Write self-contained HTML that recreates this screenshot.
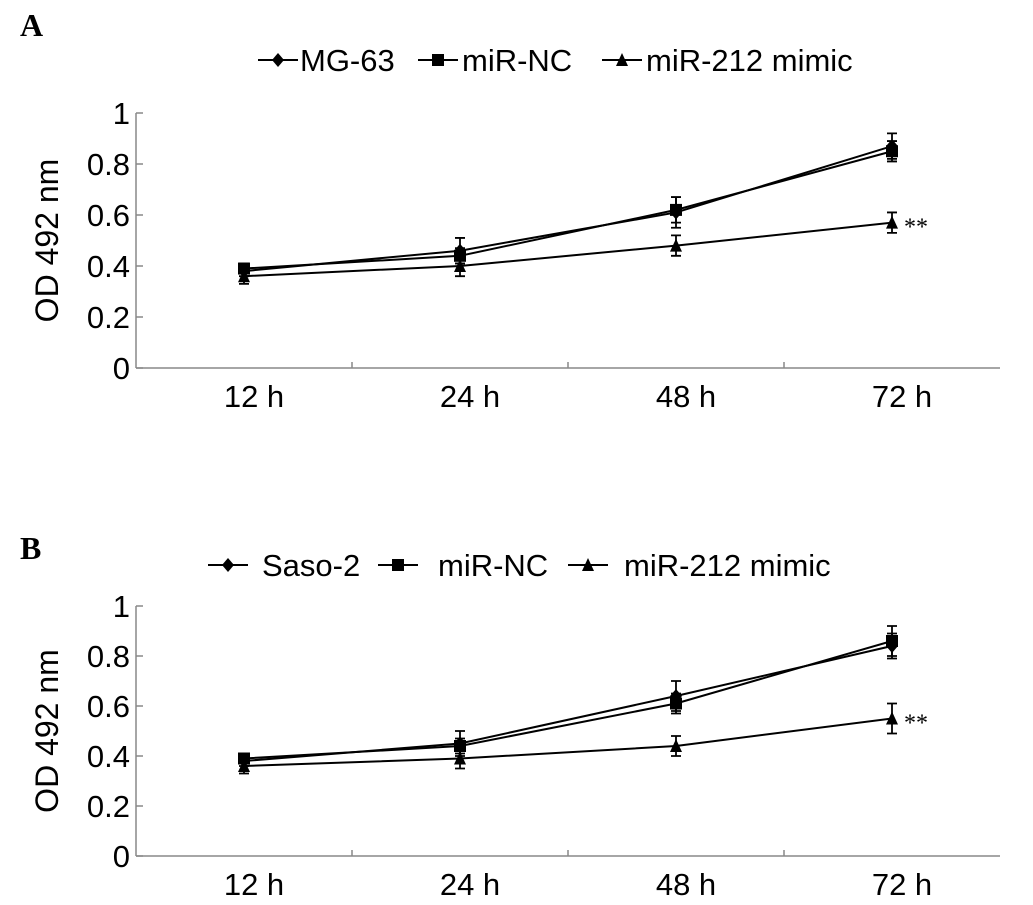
<!DOCTYPE html>
<html><head><meta charset="utf-8"><style>
html,body{margin:0;padding:0;background:#fff;}
svg{display:block;font-family:"Liberation Sans",Arial,sans-serif;}
</style></head><body>
<svg id="fig" width="1033" height="905" viewBox="0 0 1033 905"></svg>
<script>
const categories = ["12 h","24 h","48 h","72 h"];
const yTicks = [0,0.2,0.4,0.6,0.8,1];
const yTickLabels = ["0","0.2","0.4","0.6","0.8","1"];
const aCellLine = [0.38,0.46,0.61,0.87];
const aCellLineErr = [0.02,0.05,0.06,0.05];
const aNC = [0.39,0.44,0.62,0.85];
const aNCErr = [0.02,0.03,0.05,0.04];
const aMimic = [0.36,0.40,0.48,0.57];
const aMimicErr = [0.03,0.04,0.04,0.04];
const bCellLine = [0.38,0.45,0.64,0.84];
const bCellLineErr = [0.02,0.05,0.06,0.05];
const bNC = [0.39,0.44,0.61,0.86];
const bNCErr = [0.02,0.03,0.04,0.06];
const bMimic = [0.36,0.39,0.44,0.55];
const bMimicErr = [0.03,0.04,0.04,0.06];

const NS="http://www.w3.org/2000/svg";
const svg=document.getElementById('fig');
function mk(tag,attrs,parent){const e=document.createElementNS(NS,tag);for(const k in attrs)e.setAttribute(k,attrs[k]);(parent||svg).appendChild(e);return e;}

function marker(g,shape,x,y){
  if(shape==='diamond'){const m=mk('polygon',{points:`${x},${y-7} ${x+6},${y} ${x},${y+7} ${x-6},${y}`,fill:'#000'},g);
    }
  else if(shape==='square'){const m=mk('rect',{x:x-6,y:y-6,width:12,height:12,fill:'#000'},g);
    }
  else {const m=mk('polygon',{points:`${x},${y-7} ${x+6},${y+6} ${x-6},${y+6}`,fill:'#000'},g);
    }
}

function panel(opt){
  const x0=136,x1=1000,yBase=opt.y0,yTop=opt.y1;
  const sx=i=>x0+(x1-x0)/categories.length*(i+0.5);
  const sy=v=>yBase-(yBase-yTop)*v;
  const g=mk('g',{});
  
  
  const lab=mk('text',{x:20,y:opt.labelY,'font-family':'"Liberation Serif",serif','font-weight':'bold','font-size':32},g);
  lab.textContent=opt.letter;
  
  const ya=mk('line',{x1:x0,y1:yTop,x2:x0,y2:yBase,stroke:'#888','stroke-width':1.5},g);
  
  const xa=mk('line',{x1:x0,y1:yBase,x2:x1,y2:yBase,stroke:'#888','stroke-width':1.5},g);
  
  yTicks.forEach((v,i)=>{
    mk('line',{x1:x0,y1:sy(v),x2:x0+7,y2:sy(v),stroke:'#888','stroke-width':1.5},g);
    const t=mk('text',{x:x0-6,y:sy(v)+11,'text-anchor':'end','font-size':31},g);
    t.textContent=yTickLabels[i];
    
  });
  categories.forEach((c,i)=>{
    if(i>0){const bx=x0+(x1-x0)/categories.length*i;mk('line',{x1:bx,y1:yBase,x2:bx,y2:yBase-6,stroke:'#888','stroke-width':1.5},g);}
    const t=mk('text',{x:sx(i)+10,y:yBase+39,'text-anchor':'middle','font-size':31},g);
    t.textContent=c;
    
  });
  const yt=mk('text',{x:0,y:0,'text-anchor':'middle','font-size':32,transform:`translate(58,${(yBase+yTop)/2}) rotate(-90)`},g);
  yt.textContent='OD 492 nm';
  
  opt.series.forEach(s=>{
    const sg=mk('g',{},g);
    
    mk('polyline',{points:s.v.map((v,i)=>`${sx(i)},${sy(v)}`).join(' '),fill:'none',stroke:'#000','stroke-width':2},sg);
    s.v.forEach((v,i)=>{
      const x=sx(i);
      mk('path',{d:`M${x},${sy(v+s.e[i])}V${sy(v-s.e[i])}M${x-5},${sy(v+s.e[i])}H${x+5}M${x-5},${sy(v-s.e[i])}H${x+5}`,stroke:'#000','stroke-width':1.8,fill:'none'},sg);
      marker(sg,s.shape,x,sy(v));
    });
  });
  const last=opt.series[2];
  const st=mk('text',{x:sx(3)+12,y:sy(last.v[3])+12,'font-size':24,'font-family':'"Liberation Serif",serif'},g);
  st.textContent='**';
  
  const lg=mk('g',{},g);
  
  opt.legend.forEach(l=>{
    mk('line',{x1:l.x,y1:opt.legY,x2:l.x+40,y2:opt.legY,stroke:'#000','stroke-width':2},lg);
    marker(lg,l.shape,l.x+20,opt.legY);
    const t=mk('text',{x:l.tx,y:opt.legY+11,'font-size':31},lg);
    t.textContent=l.text;
    
  });
}

panel({name:'panel-a',letter:'A',labelY:36,y0:368,y1:113,legY:60,
  series:[{name:'series-mg63',shape:'diamond',v:aCellLine,e:aCellLineErr},
          {name:'series-mir-nc',shape:'square',v:aNC,e:aNCErr},
          {name:'series-mir212-mimic',shape:'triangle',v:aMimic,e:aMimicErr}],
  legend:[{x:258,tx:300,shape:'diamond',text:'MG-63'},{x:418,tx:462,shape:'square',text:'miR-NC'},{x:602,tx:646,shape:'triangle',text:'miR-212 mimic'}]});
panel({name:'panel-b',letter:'B',labelY:559,y0:856,y1:606,legY:565,
  series:[{name:'series-saso2',shape:'diamond',v:bCellLine,e:bCellLineErr},
          {name:'series-mir-nc',shape:'square',v:bNC,e:bNCErr},
          {name:'series-mir212-mimic',shape:'triangle',v:bMimic,e:bMimicErr}],
  legend:[{x:208,tx:262,shape:'diamond',text:'Saso-2'},{x:378,tx:438,shape:'square',text:'miR-NC'},{x:568,tx:624,shape:'triangle',text:'miR-212 mimic'}]});
</script>
</body></html>
